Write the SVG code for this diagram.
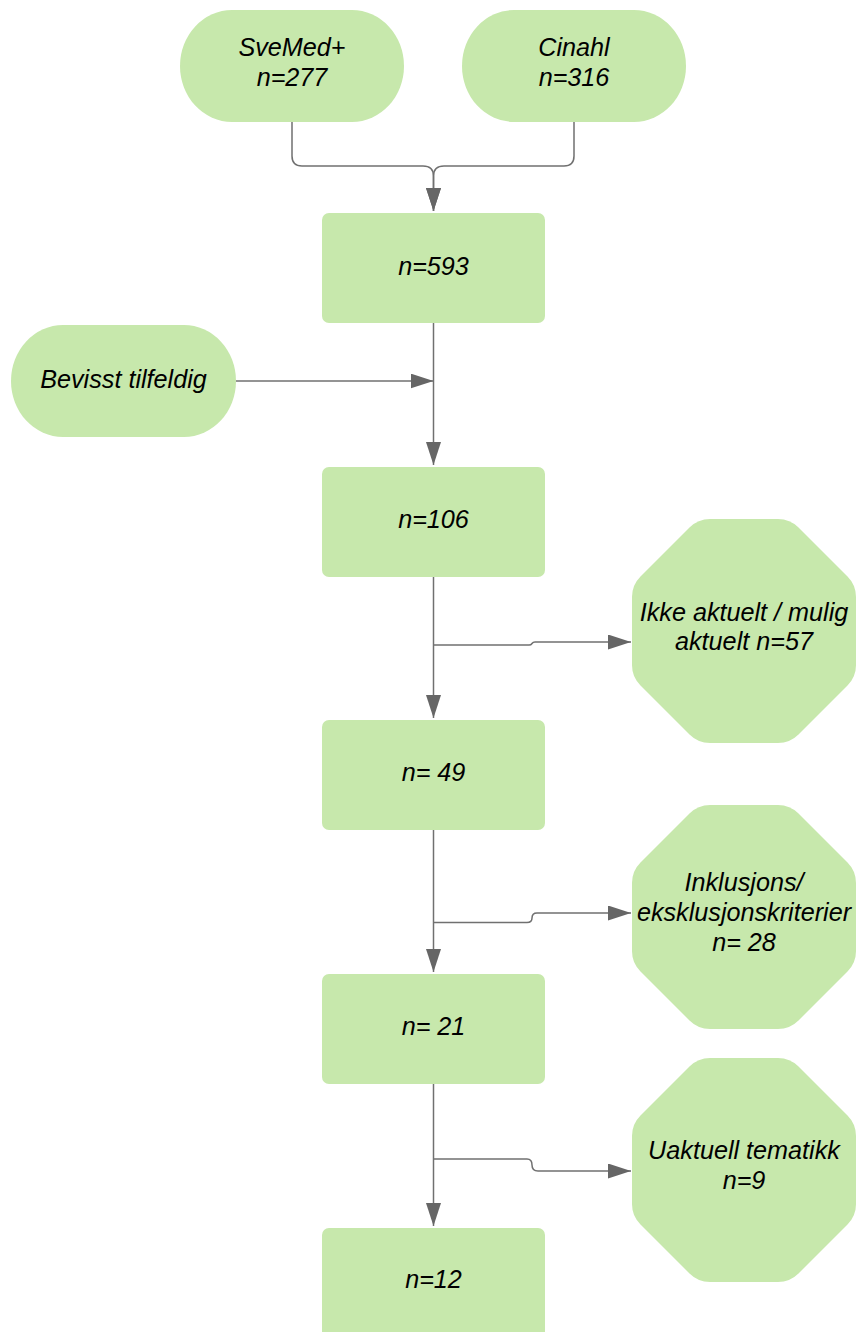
<svg xmlns="http://www.w3.org/2000/svg" width="857" height="1332" viewBox="0 0 857 1332">
<style>
.node{fill:#c7e8ac;}
.t{font-family:"Liberation Sans",Arial,sans-serif;font-style:italic;font-size:25.2px;fill:#000;text-anchor:middle;}
.c{fill:none;stroke:#707070;stroke-width:1.5;}
</style>
<defs>
<marker id="ah" markerUnits="userSpaceOnUse" markerWidth="24" markerHeight="16" refX="23" refY="7.5" orient="auto">
<path d="M0,0 L23,7.5 L0,15 Z" fill="#666666"/>
</marker>
<path id="oct" d="M78,0 H146 Q158,0 166.5,8.5 L215.5,57.5 Q224,66 224,78 V146 Q224,158 215.5,166.5 L166.5,215.5 Q158,224 146,224 H78 Q66,224 57.5,215.5 L8.5,166.5 Q0,158 0,146 V78 Q0,66 8.5,57.5 L57.5,8.5 Q66,0 78,0 Z"/>
</defs>
<rect width="857" height="1332" fill="#ffffff"/>
<g id="connectors">
<path class="c" d="M292,122 V156 Q292,166 302,166 H423 Q433.5,166 433.5,176 V211" marker-end="url(#ah)"/>
<path class="c" d="M574,122 V156 Q574,166 564,166 H444 Q433.5,166 433.5,176 V211" marker-end="url(#ah)"/>
<path class="c" d="M236,381 H433.5" marker-end="url(#ah)"/>
<path class="c" d="M433.5,323 V465" marker-end="url(#ah)"/>
<path class="c" d="M433.5,577 V718" marker-end="url(#ah)"/>
<path class="c" d="M433.5,645 H529 Q531,645 532,643.5 Q533,642 535,642 H631" marker-end="url(#ah)"/>
<path class="c" d="M433.5,830 V972" marker-end="url(#ah)"/>
<path class="c" d="M433.5,922.5 H527 Q532,922.5 532,918 Q532,913 537,913 H631" marker-end="url(#ah)"/>
<path class="c" d="M433.5,1084 V1226" marker-end="url(#ah)"/>
<path class="c" d="M433.5,1159 H527 Q532,1159 532,1165 Q532,1171 538,1171 H631" marker-end="url(#ah)"/>
</g>
<g id="svemed">
<rect class="node" x="180" y="10" width="224" height="112" rx="52" ry="56"/>
<text class="t" x="292" y="56">SveMed+</text>
<text class="t" x="292" y="86">n=277</text>
</g>
<g id="cinahl">
<rect class="node" x="462" y="10" width="224" height="112" rx="52" ry="56"/>
<text class="t" x="574" y="56">Cinahl</text>
<text class="t" x="574" y="86">n=316</text>
</g>
<g id="n593">
<rect class="node" x="322" y="213" width="223" height="110" rx="7"/>
<text class="t" x="433.5" y="275">n=593</text>
</g>
<g id="bevisst">
<rect class="node" x="11" y="325" width="225" height="112" rx="52" ry="56"/>
<text class="t" x="123.5" y="388">Bevisst tilfeldig</text>
</g>
<g id="n106">
<rect class="node" x="322" y="467" width="223" height="110" rx="7"/>
<text class="t" x="433.5" y="528">n=106</text>
</g>
<g id="ikke">
<use href="#oct" class="node" transform="translate(632,519)"/>
<text class="t" x="744" y="621">Ikke aktuelt / mulig</text>
<text class="t" x="744" y="650">aktuelt n=57</text>
</g>
<g id="n49">
<rect class="node" x="322" y="720" width="223" height="110" rx="7"/>
<text class="t" x="433.5" y="781">n= 49</text>
</g>
<g id="inklusjon">
<use href="#oct" class="node" transform="translate(632,805)"/>
<text class="t" x="744" y="891">Inklusjons/</text>
<text class="t" x="744" y="921">eksklusjonskriterier</text>
<text class="t" x="744" y="951">n= 28</text>
</g>
<g id="n21">
<rect class="node" x="322" y="974" width="223" height="110" rx="7"/>
<text class="t" x="433.5" y="1035">n= 21</text>
</g>
<g id="uaktuell">
<use href="#oct" class="node" transform="translate(632,1058)"/>
<text class="t" x="744" y="1159">Uaktuell tematikk</text>
<text class="t" x="744" y="1189">n=9</text>
</g>
<g id="n12">
<rect class="node" x="322" y="1228" width="223" height="130" rx="7"/>
<text class="t" x="433.5" y="1288">n=12</text>
</g>
</svg>
